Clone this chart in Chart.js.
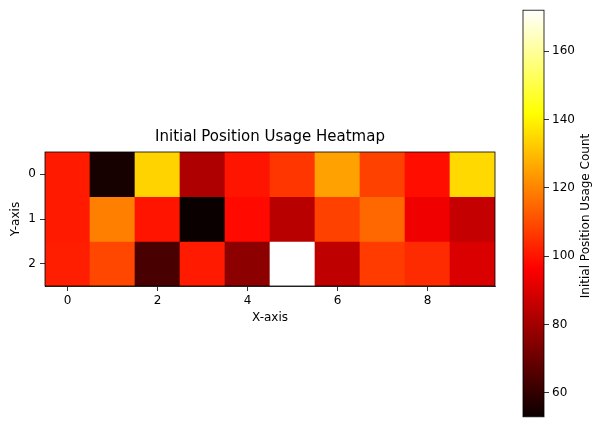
<!DOCTYPE html>
<html>
<head>
<meta charset="utf-8">
<script src="https://cdn.jsdelivr.net/npm/chart.js@4"></script>
<style>
  body { margin: 0; background: #fff; }
  canvas { position: absolute; top: 0; }
  #heat { left: 0; }
  #cbar { left: 500px; }
</style>
</head>
<body>
<canvas id="heat" width="505" height="427"></canvas>
<canvas id="cbar" width="97" height="427"></canvas>
<script>
const rows = [0, 1, 2];
const cols = [0, 1, 2, 3, 4, 5, 6, 7, 8, 9];
const xTicks = [0, 2, 4, 6, 8];
const cbTicks = [60, 80, 100, 120, 140, 160];

const row0 = [101, 55, 134, 82, 100, 106, 125, 108, 99, 135];
const row1 = [101, 119, 100, 53, 98, 84, 108, 115, 94, 86];
const row2 = [102, 109, 64, 101, 76, 172, 85, 107, 104, 90];
const rowValues = [row0, row1, row2];

const allValues = row0.concat(row1, row2);
const vmin = Math.min(...allValues);
const vmax = Math.max(...allValues);

Chart.defaults.font.family = "'DejaVu Sans', sans-serif";
Chart.defaults.font.size = 12;
Chart.defaults.color = "#000";

// matplotlib 'hot' colormap
function hot(v) {
    const t = Math.max(0, Math.min(1, (v - vmin) / (vmax - vmin)));
    const r = Math.min(1, 0.0416 + 0.9584 * t / 0.365079);
    const g = Math.max(0, Math.min(1, (t - 0.365079) / (0.746032 - 0.365079)));
    const b = Math.max(0, Math.min(1, (t - 0.746032) / (1 - 0.746032)));
    return "rgb(" + Math.round(r * 255) + "," + Math.round(g * 255) + "," + Math.round(b * 255) + ")";
}

const frame = {
    id: "frame",
    afterDatasetsDraw(chart) {
        const a = chart.chartArea;
        const ctx = chart.ctx;
        ctx.save();
        ctx.strokeStyle = "#000";
        ctx.lineWidth = 0.8;
        ctx.strokeRect(a.left, a.top, a.right - a.left, a.bottom - a.top);
        ctx.restore();
    }
};

const tickGrid = {
    display: true,
    drawOnChartArea: false,
    drawTicks: true,
    tickLength: 5,
    color: "#000",
    lineWidth: 0.8
};

const heatCtx = document.getElementById("heat").getContext("2d");

const heatChart = new Chart(heatCtx, {
    type: "bar",
    data: {
        datasets: rows.map((r, i) => ({
            data: cols.map(c => ({ x: c, y: [r - 0.5, r + 0.5] })),
            backgroundColor: rowValues[i].map(hot),
            borderWidth: 0,
            barPercentage: 1,
            categoryPercentage: 1,
            grouped: false
        }))
    },
    options: {
        responsive: false,
        animation: false,
        layout: { padding: { left: 5, right: 10, top: 128, bottom: 98 } },
        plugins: {
            legend: { display: false },
            tooltip: { enabled: false },
            title: {
                display: true,
                fullSize: false,
                text: "Initial Position Usage Heatmap",
                color: "#000",
                font: { size: 15, weight: "normal" },
                padding: { top: 0, bottom: 6 }
            }
        },
        scales: {
            x: {
                type: "linear",
                min: -0.5,
                max: 9.5,
                offset: false,
                grid: Object.assign({}, tickGrid, { offset: false }),
                border: { display: true, color: "#000", width: 0.8 },
                ticks: { padding: 3 },
                afterBuildTicks: s => { s.ticks = xTicks.map(v => ({ value: v })); },
                afterFit: s => { s.height = 43; },
                title: { display: true, text: "X-axis", padding: { top: 4, bottom: 4 } }
            },
            y: {
                type: "linear",
                reverse: true,
                min: -0.5,
                max: 2.5,
                grid: tickGrid,
                border: { display: true, color: "#000", width: 0.8 },
                ticks: { padding: 4 },
                afterBuildTicks: s => { s.ticks = rows.map(v => ({ value: v })); },
                afterFit: s => { s.width = 40; },
                title: { display: true, text: "Y-axis", padding: { top: 4, bottom: 4 } }
            }
        }
    },
    plugins: [frame]
});

const cbLabel = {
    id: "cbLabel",
    afterDraw(chart) {
        const ctx = chart.ctx;
        ctx.save();
        ctx.translate(86, 216);
        ctx.rotate(-Math.PI / 2);
        ctx.fillStyle = "#000";
        ctx.font = "12px 'DejaVu Sans', sans-serif";
        ctx.textAlign = "center";
        ctx.textBaseline = "middle";
        ctx.fillText("Initial Position Usage Count", 0, 0);
        ctx.restore();
    }
};

const cbCtx = document.getElementById("cbar").getContext("2d");

const cbChart = new Chart(cbCtx, {
    type: "bar",
    data: {
        labels: [""],
        datasets: [{
            data: [[vmin, vmax]],
            backgroundColor: context => {
                const a = context.chart.chartArea;
                if (!a) return "#000";
                const y = context.chart.scales.y;
                const g = context.chart.ctx.createLinearGradient(0, y.getPixelForValue(vmin), 0, y.getPixelForValue(vmax));
                g.addColorStop(0, hot(vmin));
                g.addColorStop(0.365079, "rgb(255,0,0)");
                g.addColorStop(0.746032, "rgb(255,255,0)");
                g.addColorStop(1, "rgb(255,255,255)");
                return g;
            },
            borderWidth: 0,
            barPercentage: 1,
            categoryPercentage: 1
        }]
    },
    options: {
        responsive: false,
        animation: false,
        layout: { padding: { left: 23, right: 0, top: 9, bottom: 0 } },
        plugins: {
            legend: { display: false },
            tooltip: { enabled: false }
        },
        scales: {
            x: { display: false },
            y: {
                position: "right",
                min: vmin,
                max: vmax,
                grid: tickGrid,
                border: { display: false },
                ticks: { padding: 3 },
                afterBuildTicks: s => { s.ticks = cbTicks.map(v => ({ value: v })); },
                afterFit: s => { s.width = 53; }
            }
        }
    },
    plugins: [frame, cbLabel]
});
</script>
</body>
</html>
